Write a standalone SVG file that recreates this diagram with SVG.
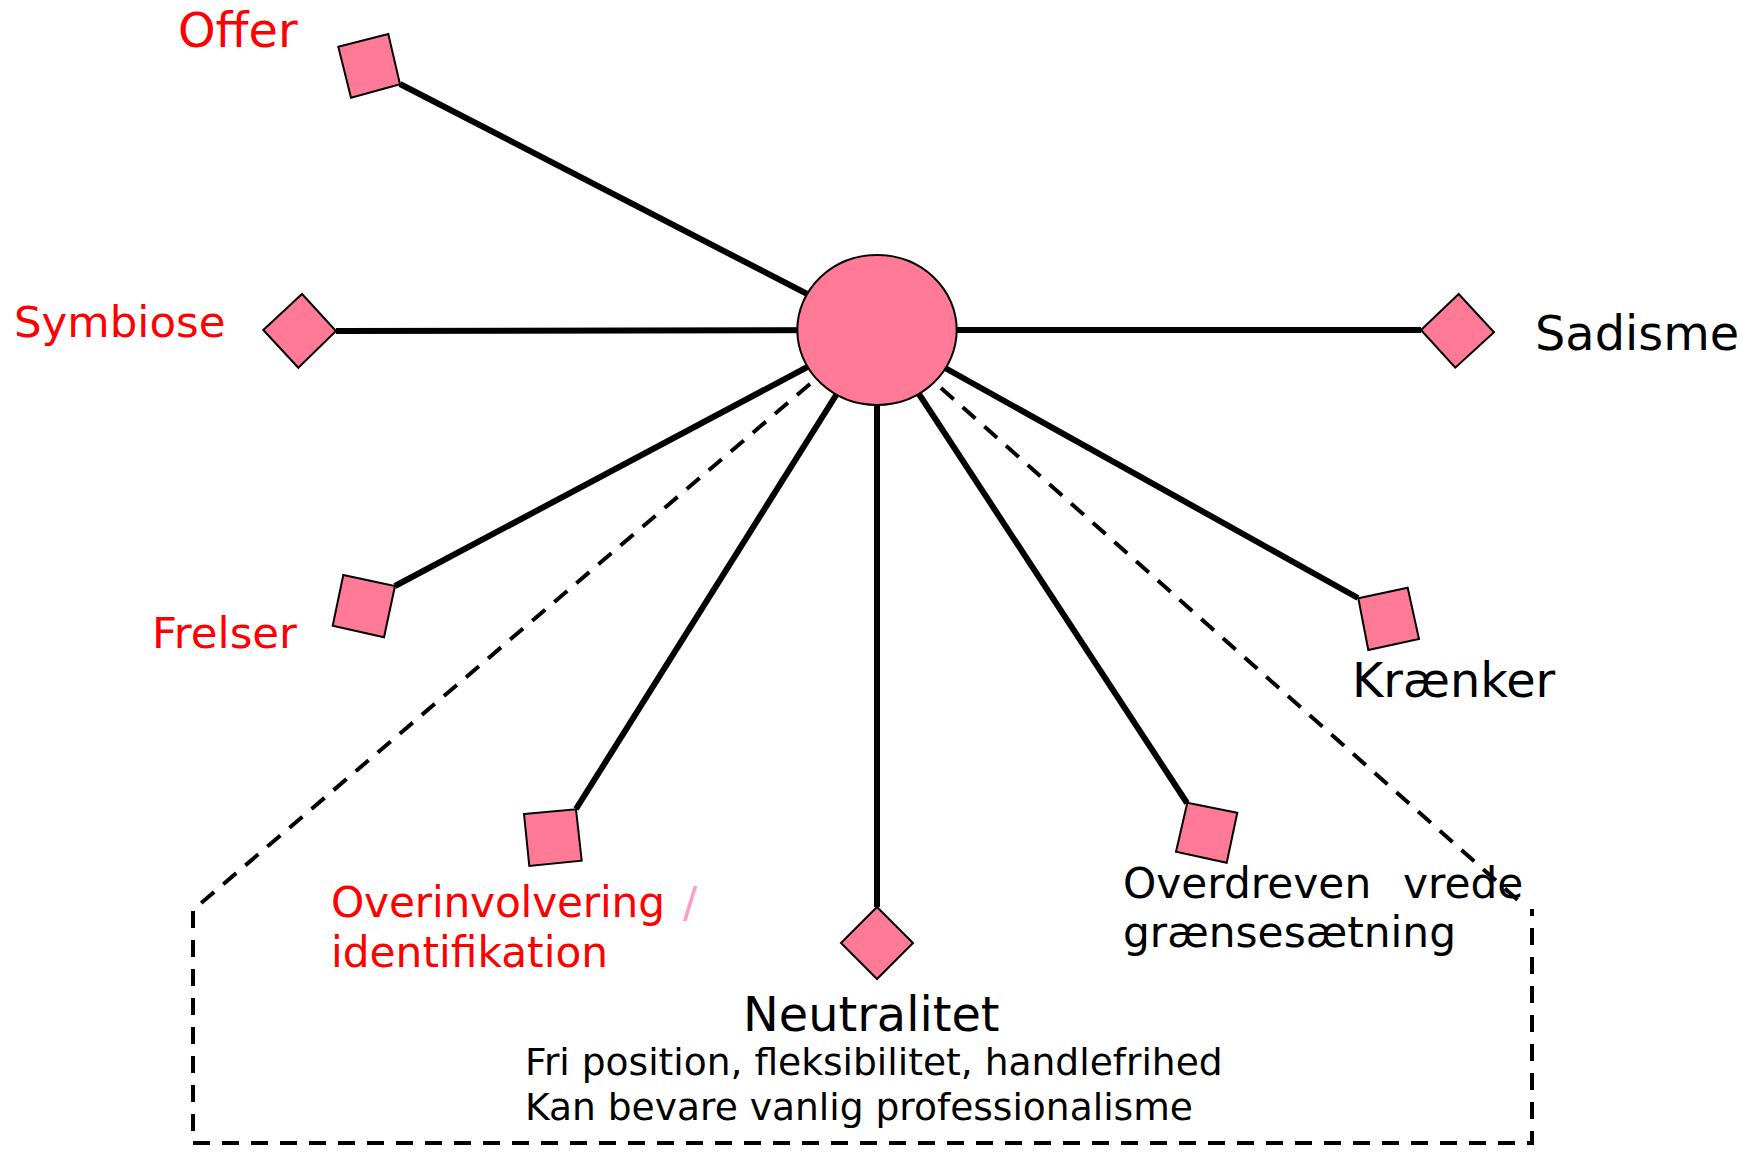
<svg xmlns="http://www.w3.org/2000/svg" width="1756" height="1153" viewBox="0 0 1756 1153">
<style>
.spoke{stroke:#000;stroke-width:6;fill:none}
.dash{stroke:#000;stroke-width:4;fill:none;stroke-dasharray:17 12}
.node{fill:#FF7A96;stroke:#000;stroke-width:2}
text{font-family:"DejaVu Sans","Verdana",sans-serif}
.big{font-size:47.8px}
.sm{font-size:42.3px}
.md{font-size:43.5px}
.xs{font-size:37.6px}
.red{fill:#FF0000}
.blk{fill:#000}
</style>
<rect width="1756" height="1153" fill="#fff"/>
<g id="connectors">
<line class="spoke" x1="877" y1="330" x2="400" y2="84"/>
<line class="spoke" x1="877" y1="330" x2="336" y2="331"/>
<line class="spoke" x1="877" y1="330" x2="1421" y2="330"/>
<line class="spoke" x1="877" y1="330" x2="395" y2="586"/>
<line class="spoke" x1="877" y1="330" x2="576" y2="809"/>
<line class="spoke" x1="877" y1="330" x2="877" y2="907"/>
<line class="spoke" x1="877" y1="330" x2="1187" y2="803"/>
<line class="spoke" x1="877" y1="330" x2="1358" y2="598"/>
<line class="dash" x1="810" y1="384" x2="200" y2="904"/>
<line class="dash" x1="941" y1="388" x2="1520" y2="902"/>
<polyline class="dash" points="193,911 193,1143 1532,1143 1532,909"/>
</g>
<g id="center"><ellipse class="node" cx="877" cy="330" rx="79.7" ry="75"/></g>
<g id="offer">
<polygon class="node" points="338.3,46.7 388.3,34 400,84.3 351,97.7"/>
<text class="big red" x="178" y="46.7">Offer</text>
</g>
<g id="symbiose">
<polygon class="node" points="263.3,330 302,294 336,331 298.3,367.7"/>
<text class="md red" x="14" y="336.7">Symbiose</text>
</g>
<g id="sadisme">
<polygon class="node" points="1421,330 1458.7,294 1494,332.3 1455.3,367.7"/>
<text class="big blk" x="1535" y="350">Sadisme</text>
</g>
<g id="frelser">
<polygon class="node" points="343.3,575 395,586 384,637.3 332.7,625.7"/>
<text class="md red" x="152" y="648">Frelser</text>
</g>
<g id="kraenker">
<polygon class="node" points="1358.3,598.3 1407.7,587.7 1419,639 1368.3,650"/>
<text class="big blk" x="1352" y="697">Krænker</text>
</g>
<g id="overinvolvering">
<polygon class="node" points="524,814 576,809.3 581.7,860.7 529.3,866"/>
<text class="sm red" x="331" y="916.7" textLength="334" lengthAdjust="spacing">Overinvolvering</text>
<text class="sm" x="683" y="916.7" fill="#FF99CC">/</text>
<text class="sm red" x="331" y="966.7">identifikation</text>
</g>
<g id="overdreven">
<polygon class="node" points="1187.3,802.7 1237.3,812.7 1226.7,862.7 1176,851.7"/>
<text class="sm blk" x="1123" y="898">Overdreven</text>
<text class="sm blk" x="1403" y="898">vrede</text>
<text class="sm blk" x="1123" y="946.7">grænsesætning</text>
</g>
<g id="neutralitet">
<polygon class="node" points="877,907 913,943 877,979 841,943"/>
<text class="big blk" x="743" y="1031">Neutralitet</text>
<text class="xs blk" x="525" y="1075">Fri position, fleksibilitet, handlefrihed</text>
<text class="xs blk" x="525" y="1120">Kan bevare vanlig professionalisme</text>
</g>
</svg>
